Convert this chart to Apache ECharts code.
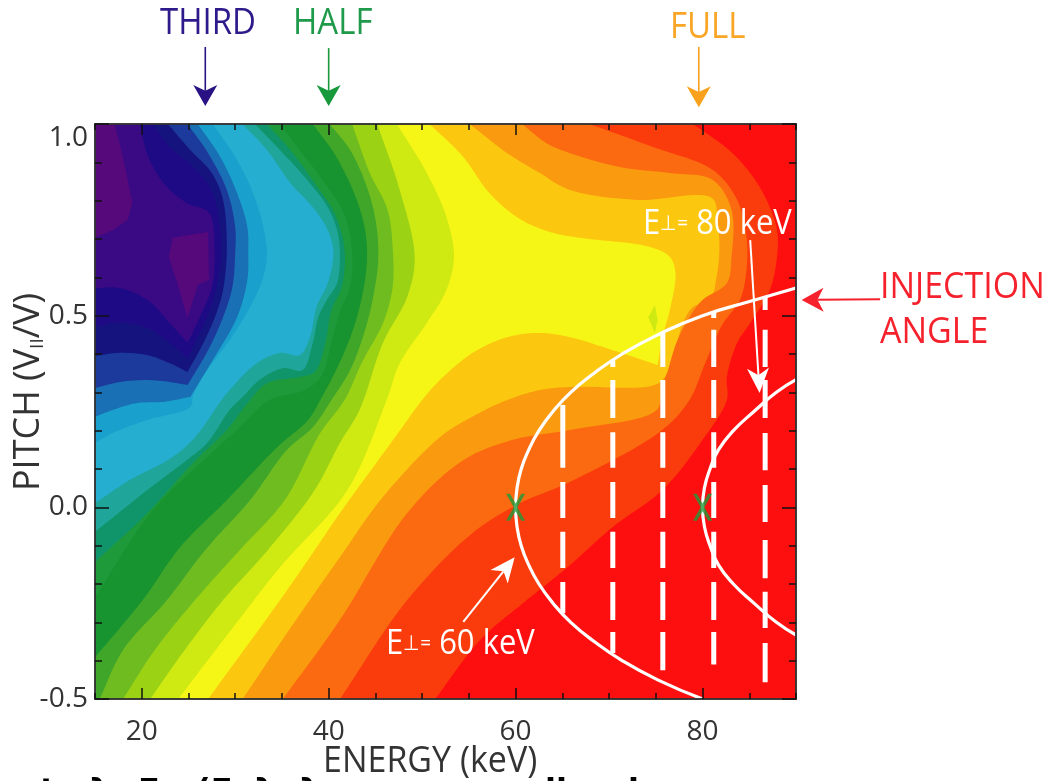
<!DOCTYPE html>
<html><head><meta charset="utf-8">
<style>html,body{margin:0;padding:0;background:#fff;overflow:hidden}#c{width:1046px;height:781px;filter:blur(0.7px)}</style>
<script src="https://cdn.jsdelivr.net/npm/echarts@6/dist/echarts.min.js"></script>
</head><body><div id="c"></div>
<script>
// filled-contour boundaries [energy keV, pitch]; the region to the right of each is painted with its colour
const c01=[[19.8,1],[20.7,.914],[22.5,.841],[24.8,.794],[27.2,.768],[27.8,.671],[27.5,.575],[26.2,.496],[24.9,.429],[24.9,.429],[23,.481],[20.6,.541],[17.7,.572],[15,.572]];
const c02=[[21.2,1],[23,.94],[25.5,.888],[27.6,.82],[28.5,.671],[28,.575],[27,.496],[24.9,.389],[24.9,.389],[23,.429],[20.6,.468],[17.7,.481],[15,.47]];
const c03=[[22.8,1],[25.2,.932],[27.5,.872],[28.7,.802],[29.1,.671],[28.7,.567],[28,.507],[26.6,.429],[24.9,.353],[24.9,.353],[23,.376],[20.6,.397],[17.7,.403],[15,.395]];
const c04=[[24.9,1],[27.1,.924],[29.1,.828],[30,.731],[30,.663],[29.7,.575],[28.7,.496],[27.1,.41],[24.9,.319],[24.9,.319],[23,.327],[20.6,.332],[17.7,.327],[15,.311]];
const c05=[[26,1],[28.4,.914],[30.2,.82],[31.3,.731],[31.4,.663],[31.3,.593],[30.2,.496],[27.8,.392],[25.2,.288],[25.2,.288],[22.3,.275],[19.5,.272],[16.9,.254],[15,.236]];
const c06=[[27.6,1],[30.2,.906],[32.3,.794],[33.4,.663],[32.9,.593],[31.6,.523],[29.4,.436],[27,.358],[25.5,.293],[25.2,.262],[20.6,.228],[16.9,.194],[15,.168]];
const c07=[[30.8,1],[33.4,.932],[35.9,.846],[38.3,.783],[39.9,.723],[40.5,.663],[39.9,.585],[38.7,.523],[38,.444],[36.9,.397],[34.8,.403],[32.3,.376],[29.4,.306],[28.4,.275],[25.7,.183],[23.3,.131],[18.7,.071],[15,.011]];
const c08=[[32.1,1],[35.1,.924],[37.7,.854],[39.9,.783],[40.9,.723],[41.2,.663],[40.9,.585],[39.8,.541],[38.9,.496],[38.3,.429],[37.2,.358],[35.1,.363],[32.6,.332],[30.8,.288],[29.4,.254],[27,.168],[24.8,.123],[20.6,.045],[15,-.064]];
const c09=[[33.4,1],[35.9,.932],[38.5,.846],[40.7,.763],[41.7,.671],[41.4,.575],[40.3,.515],[39.6,.423],[38.5,.353],[36.9,.34],[33.4,.324],[31.6,.28],[29.1,.202],[25.5,.116],[20.6,-.015],[15,-.143]];
const c10=[[34.8,1],[36.9,.932],[39.6,.846],[41.7,.763],[42.5,.671],[42.3,.575],[41.2,.51],[40.1,.41],[39.3,.345],[37.5,.306],[33.7,.28],[30.2,.202],[27,.131],[21.2,-.007],[15,-.234]];
const c11=[[38.3,1],[40.7,.919],[42.8,.815],[43.9,.723],[44.1,.645],[43.6,.554],[42.6,.463],[41.2,.379],[39.1,.28],[37.8,.228],[34.5,.157],[29.1,.019],[24.1,-.104],[20.1,-.242],[15,-.391]];
const c12=[[40.1,1],[42.3,.932],[44.2,.828],[45.1,.736],[45.3,.645],[44.8,.554],[43.9,.463],[42.3,.358],[40.3,.28],[38.3,.209],[35.5,.149],[31.6,.019],[26.8,-.111],[22.7,-.242],[18,-.372],[15.5,-.5]];
const c13=[[42.5,1],[44.4,.872],[46.3,.776],[46.9,.653],[46.8,.567],[45.8,.48],[43.6,.38],[41.7,.28],[39.1,.194],[35.3,.019],[30.5,-.111],[25.7,-.242],[21.4,-.372],[18,-.5]];
const c14=[[45.2,1],[47.6,.828],[49.2,.653],[48.4,.549],[45.8,.429],[43.3,.254],[41.2,.168],[38.5,.045],[33.5,-.111],[28.7,-.242],[24.6,-.372],[20.9,-.5]];
const c15=[[47.3,1],[50.5,.872],[52.6,.757],[53.4,.653],[52.6,.567],[50.5,.481],[47.6,.376],[46.2,.28],[42,.045],[34.8,-.156],[29.8,-.312],[23.9,-.5]];
const c16=[[50.8,1],[54.4,.914],[56.9,.828],[59.1,.776],[61.2,.742],[64,.716],[66.9,.703],[74.4,.679],[76.5,.653],[77.1,.611],[76.5,.515],[75.7,.444],[75.2,.371],[75.2,.371],[70.4,.41],[65.8,.444],[62.6,.455],[59.1,.444],[55.4,.403],[51.9,.332],[50,.28],[46.9,.176],[41.2,-.015],[38.3,-.119],[34.8,-.242],[27.1,-.5]];
const c17=[[55.1,1],[59.1,.924],[62.6,.872],[65.8,.828],[73,.802],[81,.807],[81.6,.75],[81.8,.671],[81.5,.601],[80.8,.541],[79,.523],[77.9,.481],[76.8,.384],[75.7,.332],[74.4,.316],[65.8,.314],[62.6,.306],[59.1,.28],[55.1,.233],[51.9,.183],[45.8,.027],[41.2,-.13],[35.9,-.315],[30.8,-.5]];
const c18=[[60.7,1],[63.3,.95],[65.8,.924],[71.1,.888],[76.5,.872],[81.1,.854],[83.1,.776],[83.1,.653],[82.6,.585],[80,.541],[78.6,.496],[77.2,.429],[76.2,.35],[75.6,.314],[75.1,.254],[65.8,.202],[59.7,.176],[54.4,.123],[48.4,-.015],[41.2,-.294],[35.1,-.5]];
const c19=[[67.9,1],[74.7,.94],[81.1,.88],[83.7,.802],[84.7,.705],[84.7,.619],[84,.541],[82.1,.476],[80.2,.371],[78.6,.28],[75.7,.202],[65.8,.066],[60.5,.011],[55.4,-.067],[48.4,-.242],[41.2,-.5]];
const c20=[[79,1],[83.2,.924],[86.1,.836],[87.9,.731],[88,.663],[87.2,.567],[85.1,.481],[83.7,.429],[82.6,.34],[82.6,.28],[80,.176],[75.7,.045],[70.4,-.051],[65.8,-.151],[61.2,-.242],[56.2,-.346],[51.4,-.5]];
const contours=[c01,c02,c03,c04,c05,c06,c07,c08,c09,c10,c11,c12,c13,c14,c15,c16,c17,c18,c19,c20];
const bandColors=['#1e0a85','#15147f','#1c3a9c','#1a70b5','#1aa0cc','#25aed0','#1fa59a','#10956a','#1e9a3a','#17932f','#3fa62a','#6fbc20','#9cd214','#cfe912','#f6f616','#fbc80f','#fa9a0f','#fb6a10','#fa3c0d','#fe0f0f'];
const baseColor='#3a0a85';
const purpleColor='#55097a';
const fullField=[[15,1],[90,1],[90,-.5],[15,-.5]];
const purpleLeft=[[15,1],[17.1,1],[17.9,.924],[19,.794],[18.5,.75],[16.9,.723],[15,.703]];
const purpleCentre=[[23.3,.703],[27.1,.718],[27.2,.593],[26,.58],[24.9,.494],[23.8,.585],[22.9,.653]];
const sliver=[[74.9,.528],[74.2,.496],[74.9,.455],[75.2,.489]];
// injection-angle curves
const inject60=[[90,.572],[85.5,.54],[80,.5],[75.2,.45],[71.4,.4],[68.4,.35],[65.9,.3],[64,.25],[62.5,.2],[61.4,.15],[60.6,.1],[60.15,.05],[60,0],[60.15,-.05],[60.6,-.1],[61.4,-.15],[62.5,-.2],[64,-.25],[65.9,-.3],[68.4,-.35],[71.4,-.4],[75.2,-.45],[80,-.5]];
const inject80=[[90,.333],[87.9,.3],[85.5,.25],[83.3,.2],[81.7,.15],[80.8,.1],[80.2,.05],[80,0],[80.2,-.05],[80.8,-.1],[81.7,-.15],[83.3,-.2],[85.5,-.25],[87.9,-.3],[90,-.333]];
// vertical dashed lines: dashes as pitch spans
const dash650=[[65.05,.267],[65.05,.103],[65.05,null],[65.05,.066],[65.05,-.028],[65.05,null],[65.05,-.064],[65.05,-.158],[65.05,null],[65.05,-.195],[65.05,-.276]];
const dash704=[[70.4,.384],[70.4,.366],[70.4,null],[70.4,.332],[70.4,.233],[70.4,null],[70.4,.196],[70.4,.103],[70.4,null],[70.4,.066],[70.4,-.028],[70.4,null],[70.4,-.064],[70.4,-.158],[70.4,null],[70.4,-.195],[70.4,-.294],[70.4,null],[70.4,-.325],[70.4,-.38]];
const dash757=[[75.75,.455],[75.75,.366],[75.75,null],[75.75,.332],[75.75,.233],[75.75,null],[75.75,.196],[75.75,.103],[75.75,null],[75.75,.066],[75.75,-.028],[75.75,null],[75.75,-.064],[75.75,-.158],[75.75,null],[75.75,-.195],[75.75,-.294],[75.75,null],[75.75,-.325],[75.75,-.425]];
const dash812=[[81.2,.51],[81.2,.494],[81.2,null],[81.2,.463],[81.2,.366],[81.2,null],[81.2,.332],[81.2,.233],[81.2,null],[81.2,.196],[81.2,.103],[81.2,null],[81.2,.066],[81.2,-.028],[81.2,null],[81.2,-.064],[81.2,-.158],[81.2,null],[81.2,-.195],[81.2,-.294],[81.2,null],[81.2,-.325],[81.2,-.41]];
const dash867=[[86.7,.549],[86.7,.515],[86.7,null],[86.7,.463],[86.7,.366],[86.7,null],[86.7,.332],[86.7,.233],[86.7,null],[86.7,.194],[86.7,.097],[86.7,null],[86.7,.058],[86.7,-.038],[86.7,null],[86.7,-.085],[86.7,-.185],[86.7,null],[86.7,-.22],[86.7,-.315],[86.7,null],[86.7,-.354],[86.7,-.456]];
const dashLines=[dash650,dash704,dash757,dash812,dash867];
const crossMarks=[[60,0],[80,0]];
// arrows [from, to]
const arrowThird=[[26.8,1.201],[26.8,1.047]];
const arrowHalf=[[40,1.198],[40,1.047]];
const arrowFull=[[79.6,1.201],[79.6,1.044]];
const arrowE60=[[54.4,-.299],[59.9,-.13]];
const arrowE80=[[85.1,.697],[86.1,.298]];
const arrowInject=[[99,.543],[90.6,.541]];
// axes
const xMajorTicks=[20,40,60,80];

function crRun(p){ // centripetal Catmull-Rom through pixel points
  const out=[];
  if(p.length<3){return p.slice();}
  const ext=[[2*p[0][0]-p[1][0],2*p[0][1]-p[1][1]],...p,[2*p[p.length-1][0]-p[p.length-2][0],2*p[p.length-1][1]-p[p.length-2][1]]];
  const kn=(a,b,t)=>t+Math.max(Math.sqrt(Math.hypot(b[0]-a[0],b[1]-a[1])),1e-3);
  const mix=(a,b,ta,tb,t)=>[0,1].map(j=>(tb-t)/(tb-ta)*a[j]+(t-ta)/(tb-ta)*b[j]);
  for(let i=1;i<ext.length-2;i++){
    const a=ext[i-1],b=ext[i],c=ext[i+1],d=ext[i+2];
    const t0=0,t1=kn(a,b,t0),t2=kn(b,c,t1),t3=kn(c,d,t2);
    for(let k=0;k<12;k++){
      const t=t1+(t2-t1)*k/12;
      const A1=mix(a,b,t0,t1,t),A2=mix(b,c,t1,t2,t),A3=mix(c,d,t2,t3,t);
      const B1=mix(A1,A2,t0,t2,t),B2=mix(A2,A3,t1,t3,t);
      out.push(mix(B1,B2,t1,t2,t));
    }
  }
  out.push(p[p.length-1]);
  return out;
}
function smoothPath(p){ // a repeated point marks a sharp corner
  const runs=[[p[0]]];
  for(let i=1;i<p.length;i++){
    if(p[i][0]===p[i-1][0]&&p[i][1]===p[i-1][1])runs.push([p[i]]);
    else runs[runs.length-1].push(p[i]);
  }
  return runs.flatMap(crRun);
}
function bandSeries(pts,color){
  return {type:'custom',silent:true,clip:true,data:pts,encode:{x:0,y:1},
    renderItem(params,api){
      if(params.dataIndex!==0)return;
      const px=smoothPath(pts.map(d=>api.coord(d)));
      const last=pts[pts.length-1];
      if(last[0]===15)px.push(api.coord([15,-.5]));
      px.push(api.coord([90,-.5]),api.coord([90,1]));
      return {type:'polygon',shape:{points:px},style:{fill:color}};
    }};
}
function patchSeries(pts,color){
  return {type:'custom',silent:true,clip:true,data:pts,encode:{x:0,y:1},
    renderItem(params,api){
      if(params.dataIndex!==0)return;
      return {type:'polygon',shape:{points:pts.map(d=>api.coord(d))},style:{fill:color}};
    }};
}
function arrowSeries(pts,color,w,hl,hw){
  return {type:'custom',silent:true,clip:false,z:6,data:pts,encode:{x:0,y:1},
    renderItem(params,api){
      if(params.dataIndex!==0)return;
      const a=api.coord(pts[0]),b=api.coord(pts[1]);
      const dx=b[0]-a[0],dy=b[1]-a[1],L=Math.hypot(dx,dy),u=dx/L,v=dy/L;
      const back=[b[0]-u*hl,b[1]-v*hl],notch=[b[0]-u*hl*.72,b[1]-v*hl*.72];
      const l=[back[0]-v*hw/2,back[1]+u*hw/2],r=[back[0]+v*hw/2,back[1]-u*hw/2];
      return {type:'group',children:[
        {type:'line',shape:{x1:a[0],y1:a[1],x2:notch[0],y2:notch[1]},style:{stroke:color,lineWidth:w}},
        {type:'polygon',shape:{points:[b,l,notch,r]},style:{fill:color}}
      ]};
    }};
}
function whiteLine(data,w,smooth){
  return {type:'line',data,smooth:smooth||false,showSymbol:false,symbol:'none',silent:true,z:4,clip:true,connectNulls:false,
    lineStyle:{color:'#fff',width:w},itemStyle:{color:'#fff'}};
}
function frameAxis(extra){return Object.assign({type:'value',silent:true,splitLine:{show:false},axisLine:{show:true,onZero:false,lineStyle:{color:'#333',width:1.5}},z:8},extra);}
const xCommon={min:15,max:90},yCommon={min:-.5,max:1};
const labelFont={fontFamily:'Open Sans',fontSize:28,color:'#333'};
const xAxes=[
  frameAxis({...xCommon,position:'bottom',axisTick:{inside:true,length:11,lineStyle:{color:'#111',width:1.5},customValues:xMajorTicks},axisLabel:{...labelFont,margin:19,customValues:xMajorTicks}}),
  frameAxis({...xCommon,position:'bottom',interval:5,axisTick:{inside:true,length:6,lineStyle:{color:'#111',width:1.5}},axisLabel:{show:false}}),
  frameAxis({...xCommon,position:'top',axisTick:{inside:true,length:11,lineStyle:{color:'#111',width:1.5},customValues:xMajorTicks},axisLabel:{show:false}}),
  frameAxis({...xCommon,position:'top',interval:5,axisTick:{inside:true,length:6,lineStyle:{color:'#111',width:1.5}},axisLabel:{show:false}})
];
const yAxes=[
  frameAxis({...yCommon,position:'left',interval:.5,axisTick:{inside:true,length:14,lineStyle:{color:'#111',width:1.5}},axisLabel:{...labelFont,margin:7,verticalAlignMaxLabel:'top',formatter:v=>v.toFixed(1)}}),
  frameAxis({...yCommon,position:'left',interval:.1,axisTick:{inside:true,length:7,lineStyle:{color:'#111',width:1.5}},axisLabel:{show:false}}),
  frameAxis({...yCommon,position:'right',interval:.5,axisTick:{inside:true,length:14,lineStyle:{color:'#111',width:1.5}},axisLabel:{show:false}}),
  frameAxis({...yCommon,position:'right',interval:.1,axisTick:{inside:true,length:7,lineStyle:{color:'#111',width:1.5}},axisLabel:{show:false}})
];
const T=(text,left,top,font,color,extra)=>({type:'text',left,top,z:20,scaleY:1.1,style:Object.assign({text,fill:color,font:font+'px "Open Sans"'},extra||{})});
const ePerp={rich:{b:{fontFamily:'Open Sans',fontSize:31,color:'#fff'},s:{fontFamily:'Open Sans',fontSize:19,color:'#fff'}}};
const B=(text,left)=>({type:'text',left,top:777,z:20,style:{text,fill:'#000',font:'bold 32px "DejaVu Sans"'}});
const series=[
  patchSeries(fullField,baseColor),
  patchSeries(purpleLeft,purpleColor),
  patchSeries(purpleCentre,purpleColor),
  ...contours.map((c,i)=>bandSeries(c,bandColors[i])),
  patchSeries(sliver,'#cfe912'),
  whiteLine(inject60,3.2,true),whiteLine(inject80,3.2,true),
  ...dashLines.map(d=>whiteLine(d,5)),
  {type:'scatter',data:crossMarks,symbol:'path://M0 0L4 0L10 10L16 0L20 0L12 14L20 28L16 28L10 18L4 28L0 28L8 14Z',symbolSize:[19,27],itemStyle:{color:'#1e9a3a'},silent:true,z:7},
  arrowSeries(arrowThird,'#2a1285',1.6,21,24),
  arrowSeries(arrowHalf,'#189a3c',1.6,21,24),
  arrowSeries(arrowFull,'#f9a01c',1.6,21,24),
  arrowSeries(arrowE60,'#fff',2,25,22),
  arrowSeries(arrowE80,'#fff',2,25,22),
  arrowSeries(arrowInject,'#f5222d',2,22,24)
];
const chart=echarts.init(document.getElementById('c'),null,{renderer:'canvas'});
chart.setOption({animation:false,backgroundColor:'#fff',
  grid:{left:95,top:124,width:701,height:575,containLabel:false},
  xAxis:xAxes,yAxis:yAxes,series,
  graphic:[
    T('THIRD',160,6,33,'#2f1a8c'),T('HALF',293,6,33,'#1e9a4a'),T('FULL',670,10,33,'#f9a526'),
    T('INJECTION',880,269,34,'#f5222d'),T('ANGLE',880,314,34,'#f5222d'),
    T('{b|E}{s|⊥=} {b|80 keV}',643,207,31,'#fff',ePerp),
    T('{b|E}{s|⊥=} {b|60 keV}',386,627,31,'#fff',ePerp),
    {type:'text',left:323,top:743,z:20,scaleY:1.1,style:{text:'ENERGY (keV)',fill:'#333',font:'34px "Open Sans"'}},
    {type:'text',left:11,top:293,rotation:Math.PI/2,z:20,style:{text:'PITCH (V{s|II}/V)',fill:'#333',font:'36px "Open Sans"',rich:{s:{fontFamily:'Open Sans',fontSize:19,color:'#333',verticalAlign:'bottom'}}}},
    B('t',40),B('λ',90),B('F',138),B('(E',196),B('λ',255),B('λ',300),B('ll',545),B('l',628)
  ]});
</script></body></html>
